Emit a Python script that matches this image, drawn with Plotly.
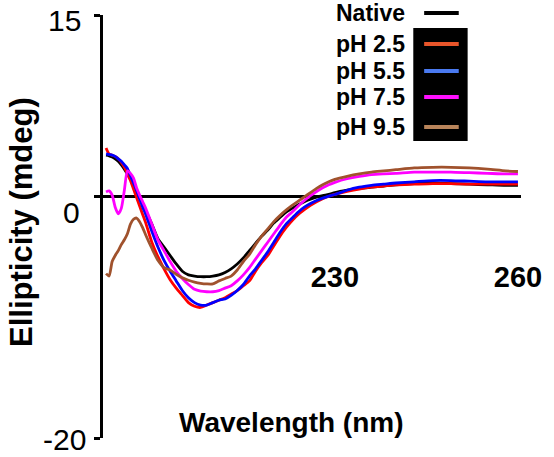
import plotly.graph_objects as go

wavelength = [192.5, 193, 193.5, 194, 194.5, 195, 195.5, 196, 196.5, 197, 197.5, 198, 198.5, 199,
              200, 201, 202, 203, 204, 205, 206, 207, 208, 209, 210, 211, 212, 213, 214, 215,
              216, 217, 218, 219, 220, 221, 222, 223, 224, 225, 226, 227, 228, 229, 230,
              232, 234, 236, 238, 240, 243, 246, 249, 252, 255, 258, 260]

native = [3.4, 3.35, 3.25, 3.1, 2.9, 2.6, 2.25, 1.85, 1.4, 0.9, 0.4, -0.1, -0.7, -1.2,
          -2.3, -3.5, -4.2, -4.9, -5.6, -6.2, -6.5, -6.6, -6.65, -6.65, -6.6, -6.5, -6.3, -6.0, -5.6, -5.1,
          -4.5, -3.9, -3.3, -2.8, -2.2, -1.75, -1.3, -1.0, -0.7, -0.45, -0.25, -0.08, 0.05, 0.15, 0.3,
          0.5, 0.65, 0.75, 0.85, 0.95, 1.05, 1.1, 1.05, 1.0, 0.95, 0.9, 0.9]

ph25 = [4.0, 3.5, 3.4, 3.3, 3.1, 2.8, 2.4, 1.9, 1.3, 0.6, -0.1, -0.8, -1.5, -2.2,
        -3.8, -5.0, -6.0, -6.9, -7.6, -8.2, -8.8, -9.1, -9.2, -9.0, -8.8, -8.6, -8.4, -8.1, -7.8, -7.4,
        -7.0, -6.2, -5.5, -4.9, -4.1, -3.3, -2.6, -2.0, -1.5, -1.1, -0.75, -0.45, -0.2, 0.0, 0.15,
        0.4, 0.6, 0.75, 0.85, 0.95, 1.0, 1.05, 1.05, 1.0, 1.0, 1.0, 1.0]

ph55 = [3.5, 3.45, 3.4, 3.3, 3.1, 2.9, 2.6, 2.3, 1.7, 1.1, 0.5, -0.2, -0.9, -1.5,
        -2.9, -4.2, -5.3, -6.2, -7.0, -7.8, -8.4, -8.8, -9.0, -9.0, -8.8, -8.6, -8.5, -8.2, -7.8, -7.3,
        -6.6, -6.0, -5.3, -4.6, -3.8, -3.0, -2.3, -1.8, -1.3, -0.9, -0.6, -0.35, -0.15, 0.02, 0.15,
        0.5, 0.75, 0.9, 1.0, 1.1, 1.2, 1.3, 1.3, 1.25, 1.2, 1.2, 1.2]

ph75 = [0.35, 0.45, 0.1, -0.9, -1.45, -1.0, 0.5, 2.1, 1.9, 1.5, 0.7, 0.1, -0.45, -1.0,
        -2.3, -3.6, -4.5, -5.4, -6.2, -6.8, -7.3, -7.7, -7.85, -7.9, -7.9, -7.8, -7.6, -7.4, -7.0, -6.5,
        -5.9, -5.2, -4.5, -3.8, -3.1, -2.4, -1.75, -1.3, -0.8, -0.35, 0.05, 0.4, 0.7, 0.95, 1.15,
        1.45, 1.65, 1.8, 1.86, 1.9, 2.0, 2.0, 2.0, 1.95, 1.9, 1.85, 1.85]

ph95 = [-6.4, -6.6, -5.4, -4.9, -4.5, -4.0, -3.6, -3.1, -2.3, -1.9, -1.8, -2.1, -2.6, -3.2,
        -4.3, -5.3, -5.9, -6.1, -6.45, -6.75, -6.95, -7.1, -7.2, -7.25, -7.25, -7.0, -6.8, -6.6, -6.1, -5.4,
        -4.8, -4.0, -3.3, -2.7, -2.1, -1.6, -1.15, -0.75, -0.4, -0.05, 0.3, 0.65, 0.95, 1.2, 1.4,
        1.65, 1.85, 2.0, 2.1, 2.2, 2.35, 2.4, 2.4, 2.35, 2.25, 2.1, 2.05]

series_names = ["Native", "pH 2.5", "pH 5.5", "pH 7.5", "pH 9.5"]
series_values = [native, ph25, ph55, ph75, ph95]
line_colors = ["#000000", "#ff0000", "#0000ff", "#ff00ff", "#a0522d"]
legend_colors = ["#000000", "#e8552a", "#4a7af0", "#ff10ff", "#b8845a"]

x_ticks = [230, 260]
y_ticks = [15, 0, -20]

FONT = "Liberation Sans, Arial, sans-serif"

W, H = 554, 457
ml, mr, mt, mb = 103, 28, 15, 19
pw, ph = W - ml - mr, H - mt - mb


def px(page_x):
    return (page_x - ml) / pw


def py(page_y):
    return 1 - (page_y - mt) / ph


fig = go.Figure()
for name, vals, col in zip(series_names, series_values, line_colors):
    fig.add_trace(go.Scatter(x=wavelength, y=vals, mode="lines", name=name,
                             line=dict(color=col, width=2.8, shape="spline", smoothing=0.6),
                             showlegend=False, hoverinfo="skip"))

annotations = []
y_label_shift = {15: -5, 0: -16, -20: -1}
y_label_right = {15: 83, 0: 82, -20: 88}
for v in y_ticks:
    annotations.append(dict(x=px(y_label_right[v]), xref="paper", y=v, yref="y", text=str(v),
                            showarrow=False, xanchor="right", yanchor="middle",
                            yshift=y_label_shift[v],
                            font=dict(family=FONT, size=30, color="black")))
annotations.append(dict(x=px(21), xref="paper", y=py(222), yref="paper",
                        text="<b>Ellipticity (mdeg)</b>", textangle=-90, showarrow=False,
                        xanchor="center", yanchor="middle",
                        font=dict(family=FONT, size=31, color="black")))
annotations.append(dict(x=px(294), xref="paper", y=py(422), yref="paper",
                        text="<b>Wavelength (nm)</b>", showarrow=False,
                        xanchor="center", yanchor="middle",
                        font=dict(family=FONT, size=28, color="black")))

shapes = []
legend_y = [13, 44, 71, 97, 127]
shapes.append(dict(type="rect", xref="paper", yref="paper", x0=px(417), x1=px(472),
                   y0=py(141), y1=py(28), fillcolor="black", line=dict(width=0), layer="above"))
for name, col, yy in zip(series_names, legend_colors, legend_y):
    shapes.append(dict(type="line", xref="paper", yref="paper", x0=px(428), x1=px(463),
                       y0=py(yy), y1=py(yy), line=dict(color=col, width=4), layer="above"))
    annotations.append(dict(x=px(411), xref="paper", y=py(yy), yref="paper",
                            text="<b>" + name + "</b>", showarrow=False,
                            xanchor="right", yanchor="middle",
                            font=dict(family=FONT, size=23, color="black")))

fig.update_layout(
    width=W, height=H,
    margin=dict(l=ml, r=mr, t=mt, b=mb, pad=0),
    paper_bgcolor="white", plot_bgcolor="white",
    showlegend=False,
    hovermode=False,
    xaxis=dict(range=[192, 260.5], showgrid=False, zeroline=False, showline=False,
               ticks="", tickvals=x_ticks, ticktext=["<b>%d</b>" % t for t in x_ticks],
               anchor="free", position=1 - (257 - mt) / ph,
               tickfont=dict(family=FONT, size=29, color="black")),
    yaxis=dict(range=[-20, 15], showgrid=False, zeroline=True, zerolinecolor="black",
               zerolinewidth=3, showline=True, linecolor="black", linewidth=3,
               ticks="outside", tickvals=y_ticks, ticklen=6, tickwidth=3, tickcolor="black",
               showticklabels=False),
    annotations=annotations,
    shapes=shapes,
)

fig.write_html("out.html", config={"displayModeBar": False, "staticPlot": True},
               post_script="document.body.style.margin='0';document.body.style.overflow='hidden';")
